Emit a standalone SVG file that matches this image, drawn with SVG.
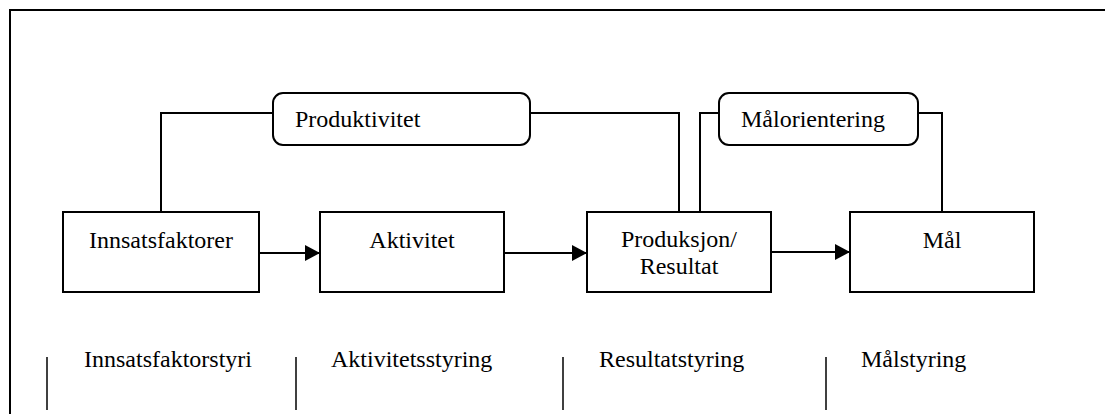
<svg xmlns="http://www.w3.org/2000/svg" width="1105" height="414" viewBox="0 0 1105 414">
  <style>
    .box { fill: #fff; stroke: #000; stroke-width: 2; }
    .rbox { fill: #fff; stroke: #000; stroke-width: 2; }
    text { font-family: 'Liberation Serif', 'Times New Roman', Times, serif; font-size: 24px; fill: #000; }
    .c { text-anchor: middle; }
    .conn { fill: none; stroke: #000; stroke-width: 2; }
    .sep { stroke: #000; stroke-width: 1.5; }
  </style>
  <defs>
    <marker id="ah" markerUnits="userSpaceOnUse" markerWidth="16" markerHeight="16" refX="15" refY="8" orient="auto">
      <path d="M0,0 L15,8 L0,16 Z" fill="#000"/>
    </marker>
  </defs>
  <rect width="1105" height="414" fill="#fff"/>
  <path d="M10,420 L10,10 L1110,10" fill="none" stroke="#000" stroke-width="2"/>

  <g id="connectors">
    <polyline class="conn" points="161,212 161,113 273,113"/>
    <polyline class="conn" points="530,113 679,113 679,212"/>
    <polyline class="conn" points="700,212 700,113 719,113"/>
    <polyline class="conn" points="918,113 942,113 942,212"/>
    <line class="conn" x1="259" y1="253" x2="320" y2="253" marker-end="url(#ah)"/>
    <line class="conn" x1="504" y1="253" x2="587" y2="253" marker-end="url(#ah)"/>
    <line class="conn" x1="771" y1="252" x2="850" y2="252" marker-end="url(#ah)"/>
  </g>

  <g font-family="Liberation Serif, Times New Roman, serif" font-size="24">
  <g id="produktivitet">
    <rect class="rbox" x="273" y="93" width="257" height="52" rx="10" ry="10"/>
    <text x="295" y="127">Produktivitet</text>
  </g>
  <g id="malorientering">
    <rect class="rbox" x="719" y="93" width="199" height="52" rx="10" ry="10"/>
    <text x="741" y="127">Målorientering</text>
  </g>

  <g id="innsatsfaktorer">
    <rect class="box" x="63" y="212" width="196" height="80"/>
    <text class="c" x="161" y="248">Innsatsfaktorer</text>
  </g>
  <g id="aktivitet">
    <rect class="box" x="320" y="212" width="184" height="80"/>
    <text class="c" x="412" y="248">Aktivitet</text>
  </g>
  <g id="produksjon">
    <rect class="box" x="587" y="212" width="184" height="80"/>
    <text class="c" x="679" y="247">Produksjon/</text>
    <text class="c" x="679" y="274">Resultat</text>
  </g>
  <g id="mal">
    <rect class="box" x="850" y="212" width="184" height="80"/>
    <text class="c" x="942" y="248">Mål</text>
  </g>

  <g id="labels">
    <line class="sep" x1="47" y1="357" x2="47" y2="410"/>
    <text x="84" y="367">Innsatsfaktorstyri</text>
    <line class="sep" x1="296" y1="357" x2="296" y2="410"/>
    <text x="331" y="367">Aktivitetsstyring</text>
    <line class="sep" x1="563" y1="357" x2="563" y2="410"/>
    <text x="599" y="367">Resultatstyring</text>
    <line class="sep" x1="826" y1="357" x2="826" y2="410"/>
    <text x="861" y="367">Målstyring</text>
  </g>
  </g>
</svg>
